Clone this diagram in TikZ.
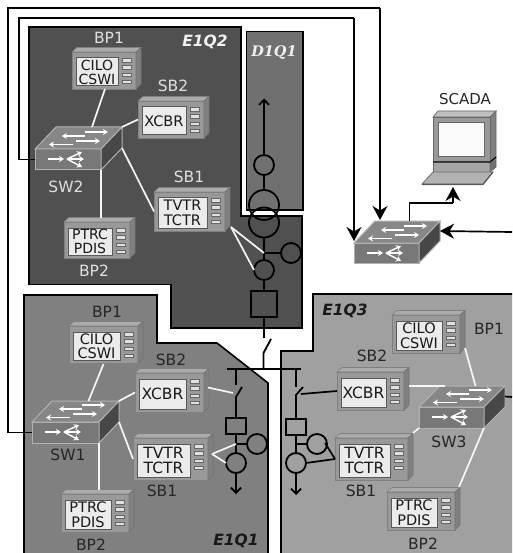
\documentclass[tikz,border=0pt]{standalone}
\usepackage{fontspec}
\setmainfont{DejaVu Sans}
\newfontfamily\dserif{DejaVu Serif}
\usetikzlibrary{arrows.meta,calc}
\definecolor{bgqtwo}{HTML}{505050}
\definecolor{bgdone}{HTML}{707070}
\definecolor{bgqone}{HTML}{808080}
\definecolor{bgqthree}{HTML}{A0A0A0}
\tikzset{
  zone/.style={draw=black,line width=1.6pt,line join=miter},
  iedfront/.style={draw=black!50,line width=.9pt,fill=black!40,inner sep=0pt,outer sep=0pt},
  iedtop/.style={draw=black!50,line width=.6pt,fill=black!33},
  iedside/.style={draw=black!55,line width=.6pt,fill=black!50},
  iedscreen/.style={draw=black!65,line width=1pt,fill=black!8,inner sep=0pt,outer sep=0pt,align=center,text=black!90},
  iedled/.style={draw=black!60,line width=.5pt,fill=black!12},
  swfront/.style={draw=black!30,line width=1pt,fill=black!53,inner sep=0pt,outer sep=0pt},
  swtop/.style={draw=black!30,line width=1pt,fill=black!47},
  swside/.style={draw=black!30,line width=1pt,fill=black!72},
  swarrow/.style={draw=white,line width=1.4pt,-{Stealth[length=5pt,width=6pt]}},
  whitelink/.style={draw=black!4,line width=1.7pt},
  blacklink/.style={draw=black,line width=1.7pt},
  primary/.style={draw=black,line width=1.8pt},
  bus/.style={primary,-{Straight Barb[length=5pt,width=10pt]}},
  bigarrow/.style={draw=black,line width=1.7pt,-{Stealth[length=14pt,width=15pt,inset=4.5pt]}},
  ct/.style={circle,draw=black,line width=1.8pt,minimum size=20pt,inner sep=0pt,outer sep=0pt},
  trafo/.style={circle,draw=black,line width=1.8pt,minimum size=30pt,inner sep=0pt,outer sep=0pt},
  cbreaker/.style={rectangle,draw=black,line width=1.8pt,inner sep=0pt,outer sep=0pt},
  lightlab/.style={text=black!12,font=\fontsize{15.5}{17}\selectfont,inner sep=0pt},
  darklab/.style={text=black!85,font=\fontsize{15.5}{17}\selectfont,inner sep=0pt},
  zonelab/.style={inner sep=0pt,font=\fontsize{15.5}{17}\selectfont\bfseries\itshape},
}
% name, x, y, w, h, text, font size
\newcommand{\ied}[7]{%
  \node[iedfront,anchor=north west,minimum width=#4pt,minimum height=#5pt] (#1) at (#2,#3) {};
  \filldraw[iedtop] (#1.north west) -- ++(5,-4.5) -- ([shift={(5,-4.5)}]#1.north east) -- (#1.north east) -- cycle;
  \filldraw[iedside] (#1.north east) -- ++(5,-4.5) -- ([shift={(5,-5)}]#1.south east) -- (#1.south east) -- cycle;
  \pgfmathsetmacro{\scrw}{#4-22}\pgfmathsetmacro{\scrh}{#5-9}
  \node[iedscreen,anchor=north west,minimum width=\scrw pt,minimum height=\scrh pt,font=\fontsize{#7}{#7}\selectfont] (#1t) at ([shift={(4,6)}]#1.north west) {#6};
  \foreach \k in {0,1,2,3}{\draw[iedled] ([shift={(-14,{6.5+\k*7.2})}]#1.north east) rectangle ++(9,3.6);}
}
% name, x, y, w, h, dx, dy
\newcommand{\switchbox}[7]{%
  \node[swfront,anchor=north west,minimum width=#4pt,minimum height=#5pt] (#1) at (#2,#3) {};
  \coordinate (#1-bl) at ([shift={(#6,-#7)}]#1.north west);
  \coordinate (#1-br) at ([shift={(#6,-#7)}]#1.north east);
  \coordinate (#1-sb) at ([shift={(#6,-#7)}]#1.south east);
  \coordinate (#1-bm) at ($(#1-bl)!.5!(#1-br)$);
  \filldraw[swtop] (#1.north west) -- (#1-bl) -- (#1-br) -- (#1.north east) -- cycle;
  \filldraw[swside] (#1.north east) -- (#1-br) -- (#1-sb) -- (#1.south east) -- cycle;
  \draw[swarrow] ([shift={(50,-17)}]#1.north west) -- ++(23,0);
  \draw[swarrow] ([shift={(50,-13)}]#1.north west) -- ++(-23,0);
  \draw[swarrow] ([shift={(41,-8)}]#1.north west) -- ++(24,0);
  \draw[swarrow] ([shift={(38,-4.5)}]#1.north west) -- ++(-24,0);
  \draw[swarrow] ([shift={(13,10)}]#1.north west) -- ++(16,0);
  \draw[swarrow] ([shift={(32,10)}]#1.north west) -- ++(15,-7);
  \draw[swarrow] ([shift={(32,10)}]#1.north west) -- ++(17,0);
  \draw[swarrow] ([shift={(32,10)}]#1.north west) -- ++(15,8);
}
\begin{document}
\begin{tikzpicture}[x=1pt,y=-1pt]
\useasboundingbox (0,0) rectangle (512,553);
\clip (0,0) rectangle (512,553);
\fill[white] (0,0) rectangle (512,553);
% zones
\filldraw[zone,fill=bgqtwo] (29,27) -- (241,27) -- (241,216) -- (302,216) -- (302,328) -- (171,328) -- (171,284.5) -- (29,284.5) -- cycle;
\filldraw[zone,fill=bgdone] (246.5,31.5) -- (303,31.5) -- (303,210) -- (246.5,210) -- cycle;
\filldraw[zone,fill=bgqone] (24,295) -- (157,295) -- (157,343) -- (217,343) -- (268,383) -- (268,570) -- (24,570) -- cycle;
\filldraw[zone,fill=bgqthree] (313,294) -- (530,294) -- (530,570) -- (281,570) -- (281,351) -- (313,351) -- cycle;
\node[zonelab,text=black!6] (zq2) at (205,42) {E1Q2};
\node[zonelab,text=black!6,font=\fontsize{14.5}{16}\selectfont\dserif\bfseries\itshape] (zd1) at (274,52.5) {D1Q1};
\node[zonelab,text=black!90] (zq1) at (236,541) {E1Q1};
\node[zonelab,text=black!90] (zq3) at (345,311) {E1Q3};
% devices
\ied{qtbp}{72}{52}{64}{37}{CILO\\CSWI}{14}
\ied{qtsb}{138}{101}{66}{37}{XCBR}{14.5}
\ied{qtsa}{154}{192}{71}{39}{TVTR\\TCTR}{14.5}
\ied{qtbq}{64}{222}{66}{36}{PTRC\\PDIS}{14}
\ied{qobp}{69}{326}{69}{37}{CILO\\CSWI}{14.5}
\ied{qosb}{135}{373}{69}{39}{XCBR}{15.5}
\ied{qosa}{133}{438}{75}{42}{TVTR\\TCTR}{15.5}
\ied{qobq}{61}{494}{68}{38}{PTRC\\PDIS}{14.5}
\ied{qhbp}{392}{315}{68}{38}{CILO\\CSWI}{14.5}
\ied{qhsb}{337}{372}{67}{38}{XCBR}{15.5}
\ied{qhsa}{335}{438}{73}{42}{TVTR\\TCTR}{15.5}
\ied{qhbq}{387}{492}{68}{38}{PTRC\\PDIS}{14.5}
\switchbox{swt}{35}{149}{66}{21}{21}{22}
\switchbox{swo}{32}{422}{67}{21}{20}{21}
\switchbox{swh}{419}{407}{65}{21}{21}{21}
\switchbox{swz}{354}{243}{65}{20}{21}{22}
% device labels
\node[lightlab] (lb1) at (109,38) {BP1};
\node[lightlab] (lb2) at (173,86) {SB2};
\node[lightlab] (lb3) at (66,187) {SW2};
\node[lightlab] (lb4) at (189,177) {SB1};
\node[lightlab] (lb5) at (94,271) {BP2};
\node[darklab] (lb6) at (107,312) {BP1};
\node[darklab] (lb7) at (171,360) {SB2};
\node[darklab] (lb8) at (68,455) {SW1};
\node[darklab] (lb9) at (162,491) {SB1};
\node[darklab] (lb10) at (91,545) {BP2};
\node[darklab] (lb11) at (489,329) {BP1};
\node[darklab] (lb12) at (372,356) {SB2};
\node[darklab] (lb13) at (449,442) {SW3};
\node[darklab] (lb14) at (361,491) {SB1};
\node[darklab] (lb15) at (423,544) {BP2};
\node[inner sep=0pt,text=black!85,font=\fontsize{15}{17}\selectfont] (lbs) at (465,99) {SCADA};
% SCADA computer
\filldraw[draw=black!60,line width=.7pt,fill=black!25] (433,117) -- (438,111) -- (496,111) -- (490,117) -- cycle;
\filldraw[draw=black!60,line width=.7pt,fill=black!50] (490,117) -- (496,111) -- (496,157) -- (490,162) -- cycle;
\node[draw=black!60,line width=.8pt,fill=black!40,anchor=north west,minimum width=57pt,minimum height=45pt,inner sep=0pt,outer sep=0pt] (scada) at (433,117) {};
\node[draw=black!60,line width=1pt,fill=black!2,minimum width=46pt,minimum height=34pt,inner sep=0pt] (scr) at (461,140) {};
\filldraw[draw=black!60,line width=.7pt,fill=black!35] (433,162) -- (490,162) -- (490,172) -- (433,172) -- cycle;
\filldraw[draw=black!60,line width=.7pt,fill=black!55] (490,162) -- (496,157) -- (496,167) -- (490,172) -- cycle;
\draw[black,line width=1pt] (433,162) -- (490,162) -- (496,157);
\filldraw[draw=black!60,line width=.7pt,fill=black!30] (422,184) -- (433,172) -- (493,172) -- (483,184) -- cycle;
\draw[black!65,line width=1.2pt] (422,184.5) -- (483,184.5) -- (493,172);
% links between devices
\draw[whitelink] ([shift={(1,0)}]qtbp.south) -- ([shift={(3,0)}]swt-bm);
\draw[whitelink] (qtsb.west) -- (swt-br);
\draw[whitelink] (swt.south east) -- ([shift={(4,-4)}]qtbq.north);
\draw[whitelink] (swt-sb) -- (qtsa.west);
\draw[whitelink] ([shift={(0,1)}]qobp.south) -- ([shift={(3,0)}]swo-bm);
\draw[whitelink] (qosb.west) -- (swo-br);
\draw[whitelink] (swo.south east) -- ([shift={(4,-4)}]qobq.north);
\draw[whitelink] (swo-sb) -- (qosa.west);
\draw[whitelink] ([shift={(5,-5)}]qhbp.south east) -- ([shift={(3,0)}]swh-bm);
\draw[whitelink] ([shift={(5,-5)}]qhsb.east) -- ([shift={(5,0)}]swh-bl);
\draw[whitelink] ([shift={(5,-5)}]qhsa.north east) -- (swh.south west);
\draw[whitelink] ([shift={(4,-5)}]qhbq.north east) -- (swh.south east);
% station bus
\coordinate (co1) at (8,8);
\coordinate (tip1) at (380,220);
\coordinate (co2) at (19,18);
\coordinate (tip2) at (354,241);
\coordinate (co3) at (453,203);
\coordinate (tip3) at (453,187);
\coordinate (edge1) at (512,232);
\coordinate (edge2) at (512,397);
\draw[blacklink] (swo.west) -| (co1) -- (co1 -| tip1);
\draw[bigarrow] (co1 -| tip1) -- (tip1);
\draw[blacklink] (swt.west) -| (co2) -- (co2 -| tip2);
\draw[bigarrow] (co2 -| tip2) -- (tip2);
\draw[blacklink] ([shift={(2,0)}]swz-bm) |- (co3);
\draw[bigarrow] (co3) -- (tip3);
\draw[bigarrow] (edge1) -- ($(swz-br)!.5!(swz-sb)$);
\draw[blacklink] ($(swh-br)!.5!(swh-sb)$) -- (edge2);
% primary circuit: feeder D1Q1 / E1Q2
\node[ct] (cta) at (264,165) {};
\node[trafo] (tra) at (264,205) {};
\node[trafo] (trb) at (264,222.5) {};
\node[ct] (ctb) at (264,270) {};
\node[ct] (ctc) at (291,253) {};
\node[cbreaker,minimum size=26pt] (cbq) at (264,304) {};
\coordinate (feedup) at (264,98.5);
\coordinate (jq) at (264,253);
\coordinate (dsa) at (264,338);
\coordinate (dsb) at (263.5,353);
\coordinate (dsc) at (271,339);
\coordinate (busl) at (227,369);
\coordinate (busr) at (301,369);
\draw[bus] (cta.north) -- (feedup);
\draw[primary] (cta.south) -- (tra.north);
\draw[primary] (trb.south) -- (ctb.north);
\draw[primary] (jq) -- (ctc.west);
\draw[primary] (ctb.south) -- (cbq.north);
\draw[primary] (cbq.south) -- (dsa);
\draw[primary] (dsc) -- (dsb) -- (dsb |- busl);
\draw[primary] (busl) -- (busr);
\draw[whitelink] ([shift={(6,-4)}]qtsa.south east) -- (jq);
\draw[whitelink] ([shift={(6,-4)}]qtsa.south east) -- (ctb.west);
% primary circuit: E1Q1
\coordinate (la) at (236,369);
\coordinate (lb) at (236,385);
\coordinate (lc) at (236,397);
\coordinate (ld) at (242,387);
\node[cbreaker,minimum width=20pt,minimum height=16pt] (cbl) at (236,426) {};
\node[ct] (ctl) at (236,463) {};
\node[ct] (ctm) at (257,444) {};
\coordinate (jl) at (236,444);
\coordinate (lout) at (236,494);
\draw[primary] (la) -- (lb);
\draw[primary] (ld) -- (lc) -- (cbl.north);
\draw[primary] (cbl.south) -- (ctl.north);
\draw[primary] (jl) -- (ctm.west);
\draw[bus] (ctl.south) -- (lout);
\coordinate (lbl) at (233,393);
\draw[whitelink] ([shift={(4,-5)}]qosb.east) -- (lbl);
\draw[whitelink] ([shift={(4,-5)}]qosa.east) -- (jl);
\draw[whitelink] ([shift={(4,-5)}]qosa.east) -- (ctl.west);
% primary circuit: E1Q3
\coordinate (ra) at (296,369);
\coordinate (rb) at (296,387);
\coordinate (rc) at (296,395);
\coordinate (rd) at (303,387);
\node[cbreaker,minimum width=20pt,minimum height=16pt] (cbr) at (296,427) {};
\node[ct] (ctr) at (296,463) {};
\node[ct] (cts) at (317,444) {};
\coordinate (jr) at (296,444);
\coordinate (rout) at (296,495);
\draw[primary] (ra) -- (rb);
\draw[primary] (rd) -- (rc) -- (cbr.north);
\draw[primary] (cbr.south) -- (ctr.north);
\draw[primary] (jr) -- (cts.west);
\draw[bus] (ctr.south) -- (rout);
\coordinate (rbl) at (301,394);
\draw[blacklink] (qhsb.west) -- (rbl);
\draw[blacklink] (qhsa.west) -- ([shift={(-2,-1)}]cts.east);
\draw[blacklink] (qhsa.west) -- (ctr.east);
\end{tikzpicture}
\end{document}
